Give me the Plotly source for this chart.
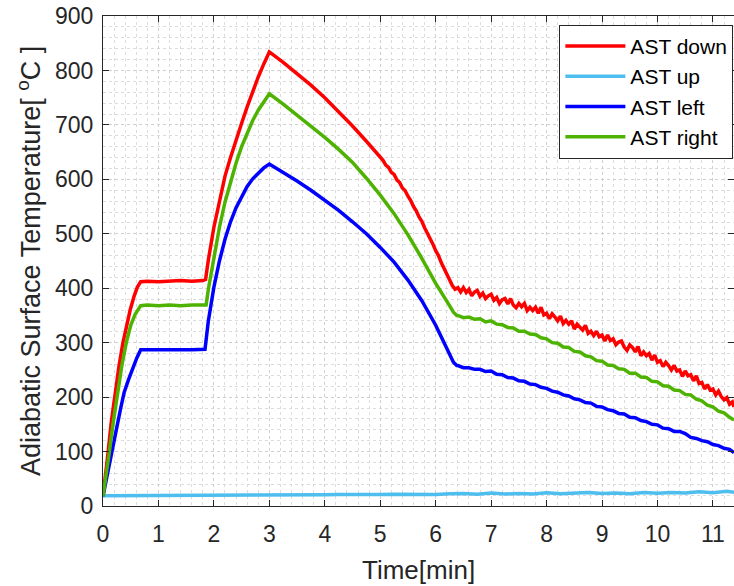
import plotly.graph_objects as go

# ---------------- data: adiabatic surface temperature (deg C) vs time (min) ----------------
# AST down
t_down = [0, 0.04, 0.08, 0.15, 0.22, 0.29, 0.36, 0.43, 0.49, 0.56, 0.62, 0.68,
          0.8, 1.0, 1.2, 1.4, 1.6, 1.8, 1.85,
          1.9, 2.0, 2.1, 2.2, 2.3, 2.4, 2.5, 2.6, 2.7, 2.8, 2.9, 3.0,
          3.25, 3.5, 3.75, 4.0, 4.25, 4.5, 4.75,
          5.0, 5.05, 5.1, 5.15, 5.2, 5.25, 5.3, 5.35, 5.4, 5.45, 5.5, 5.55, 5.6, 5.65,
          5.7, 5.75, 5.8, 5.85, 5.9, 5.95, 6.0, 6.05, 6.1, 6.15, 6.2, 6.25, 6.3, 6.35,
          6.4, 6.45, 6.5, 6.55, 6.6, 6.65, 6.7, 6.75, 6.8, 6.85, 6.9, 6.95,
          7.0, 7.05, 7.1, 7.15, 7.2, 7.25, 7.3, 7.35, 7.4, 7.45, 7.5, 7.55, 7.6, 7.65,
          7.7, 7.75, 7.8, 7.85, 7.9, 7.95, 8.0, 8.05, 8.1, 8.15, 8.2, 8.25, 8.3, 8.35,
          8.4, 8.45, 8.5, 8.55, 8.6, 8.65, 8.7, 8.75, 8.8, 8.85, 8.9, 8.95,
          9.0, 9.05, 9.1, 9.15, 9.2, 9.25, 9.3, 9.35, 9.4, 9.45, 9.5, 9.55, 9.6, 9.65,
          9.7, 9.75, 9.8, 9.85, 9.9, 9.95, 10.0, 10.05, 10.1, 10.15, 10.2, 10.25,
          10.3, 10.35, 10.4, 10.45, 10.5, 10.55, 10.6, 10.65, 10.7, 10.75, 10.8,
          10.85, 10.9, 10.95, 11.0, 11.05, 11.1, 11.15, 11.2, 11.25, 11.3, 11.35, 11.38]
ast_down = [18, 60, 88, 155, 208, 258, 300, 334, 360, 385, 402, 412,
            413, 412, 413, 414, 413, 414, 416,
            452, 512, 562, 606, 640, 673, 703, 733, 762, 788, 812, 834,
            815, 795, 773, 750, 725, 698, 670,
            640, 635, 626, 622, 613, 609, 599, 594, 584, 579, 569, 561, 550, 542,
            531, 523, 511, 502, 490, 481, 469, 460, 447, 437, 424, 415, 405, 398,
            401, 393, 401, 392, 398, 386, 393, 396, 385, 391, 381, 386,
            389, 378, 383, 372, 379, 381, 371, 381, 369, 364, 372, 366, 372, 359,
            365, 359, 365, 354, 365, 351, 354, 344, 353, 347, 340, 349, 335, 341,
            334, 340, 325, 334, 329, 323, 332, 317, 321, 313, 321, 311,
            314, 303, 314, 304, 307, 296, 301, 303, 292, 286, 296, 291, 283, 293,
            276, 283, 276, 280, 268, 277, 264, 267, 256, 264, 258, 250,
            258, 248, 250, 238, 248, 239, 241, 230, 239, 225, 227,
            215, 223, 213, 215, 204, 211, 201, 195, 199, 187, 191, 182]

# AST up
t_up = [0, 0.25, 0.5, 0.75, 1.0, 1.25, 1.5, 1.75, 2.0, 2.25, 2.5, 2.75, 3.0, 3.25,
        3.5, 3.75, 4.0, 4.25, 4.5, 4.75, 5.0, 5.25, 5.5, 5.75, 6.0, 6.25, 6.5,
        6.75, 7.0, 7.25, 7.5, 7.75, 8.0, 8.25, 8.5, 8.75, 9.0, 9.25, 9.5, 9.75,
        10.0, 10.25, 10.5, 10.75, 11.0, 11.25, 11.38]
ast_up = [19, 19, 19, 19, 19.5, 19.5, 19.5, 19.5, 20, 20, 20, 20, 20.5, 20.5,
          20, 20.5, 20.5, 21, 20.5, 21, 21, 21.5, 21, 21.5, 21, 22.5, 23,
          21.5, 24, 22, 23, 22, 24.5, 22.5, 23, 25, 23, 24, 22.5, 25,
          23.5, 25, 24, 26, 24.5, 27, 25]

# AST left
t_left = [0, 0.05, 0.1, 0.14, 0.2, 0.26, 0.32, 0.38, 0.46, 0.54, 0.61, 0.68,
          0.8, 1.0, 1.2, 1.4, 1.6, 1.84,
          1.9, 2.0, 2.1, 2.2, 2.3, 2.4, 2.5, 2.6, 2.7, 2.8, 2.9, 3.0,
          3.25, 3.5, 3.75, 4.0, 4.25, 4.5, 4.75, 5.0, 5.25, 5.5, 5.75, 6.0,
          6.25, 6.32, 6.38,
          6.4, 6.5, 6.6, 6.7, 6.8, 6.9, 7.0, 7.1, 7.2, 7.3, 7.4, 7.5, 7.6, 7.7,
          7.8, 7.9, 8.0, 8.1, 8.2, 8.3, 8.4, 8.5, 8.6, 8.7, 8.8, 8.9, 9.0, 9.1,
          9.2, 9.3, 9.4, 9.5, 9.6, 9.7, 9.8, 9.9, 10.0, 10.1, 10.2, 10.3, 10.4,
          10.5, 10.6, 10.7, 10.8, 10.9, 11.0, 11.1, 11.2, 11.3, 11.38]
ast_left = [18, 45, 68, 88, 120, 150, 180, 208, 232, 254, 272, 287,
            287, 286, 287, 286, 287, 288,
            340, 402, 450, 490, 522, 548, 569, 587, 601, 612, 621, 628,
            613, 597, 580, 562, 543, 522, 500, 475, 448, 415, 377, 332,
            280, 264, 258,
            258, 254, 254, 251, 251, 247, 248, 242, 241, 236, 235, 230, 229, 224,
            223, 218, 216, 211, 209, 204, 202, 197, 195, 190, 189, 183, 182, 177,
            175, 170, 169, 163, 162, 157, 155, 150, 149, 143, 142, 137, 137,
            133, 126, 124, 120, 118, 113, 111, 106, 104, 98]

# AST right
t_right = [0, 0.05, 0.1, 0.18, 0.26, 0.34, 0.42, 0.5, 0.58, 0.68,
           0.8, 1.0, 1.2, 1.4, 1.6, 1.86,
           1.9, 2.0, 2.1, 2.2, 2.3, 2.4, 2.5, 2.6, 2.7, 2.8, 2.9, 3.0,
           3.25, 3.5, 3.75, 4.0, 4.25, 4.5, 4.75, 5.0, 5.25, 5.5, 5.75, 6.0,
           6.25, 6.32, 6.38,
           6.4, 6.5, 6.6, 6.7, 6.8, 6.9, 7.0, 7.1, 7.2, 7.3, 7.4, 7.5, 7.6, 7.7,
           7.8, 7.9, 8.0, 8.1, 8.2, 8.3, 8.4, 8.5, 8.6, 8.7, 8.8, 8.9, 9.0, 9.1,
           9.2, 9.3, 9.4, 9.5, 9.6, 9.7, 9.8, 9.9, 10.0, 10.1, 10.2, 10.3, 10.4,
           10.5, 10.6, 10.7, 10.8, 10.9, 11.0, 11.1, 11.2, 11.3, 11.38]
ast_right = [18, 50, 88, 150, 210, 258, 300, 332, 352, 368,
             369, 368, 369, 368, 369, 369,
             398, 458, 512, 558, 597, 630, 660, 686, 708, 727, 743, 757,
             738, 718, 698, 677, 655, 631, 602, 571, 537, 498, 455, 409,
             368, 356, 350,
             350, 346, 347, 343, 344, 338, 340, 334, 333, 328, 327, 321, 321, 316,
             315, 309, 307, 300, 299, 292, 291, 284, 283, 276, 274, 267, 266, 259,
             258, 252, 251, 244, 244, 237, 236, 229, 228, 221, 220, 213, 212,
             205, 204, 196, 193, 185, 182, 174, 171, 163, 158]

series = [
    ("AST down", t_down, ast_down, "#FF0000"),
    ("AST up", t_up, ast_up, "#4DBEEE"),
    ("AST left", t_left, ast_left, "#0000FF"),
    ("AST right", t_right, ast_right, "#4DB300"),
]

x_ticks = list(range(0, 12))
y_ticks = list(range(0, 1000, 100))

FONT = "Liberation Sans, Arial, sans-serif"
INK = "#262626"

fig = go.Figure()
for name, t, v, color in series:
    fig.add_trace(go.Scatter(x=t, y=v, mode="lines", name=name,
                             line=dict(color=color, width=3.5)))

grid = dict(showgrid=True, gridcolor="#cfcfcf", gridwidth=1, griddash="dot")
fig.update_xaxes(
    range=[0, 11.38], tickvals=x_ticks, ticks="inside", ticklen=6, tickcolor=INK,
    showline=True, linecolor=INK, linewidth=1, mirror="ticks",
    tickfont=dict(family=FONT, size=23, color=INK), zeroline=False,
    ticklabelstandoff=7,
    minor=dict(dtick=0.2, showgrid=True, gridcolor="#dcdcdc", griddash="dot", ticks=""),
    **grid,
)
fig.update_yaxes(
    range=[0, 900], tickvals=y_ticks, ticks="inside", ticklen=6, tickcolor=INK,
    showline=True, linecolor=INK, linewidth=1, mirror="ticks",
    tickfont=dict(family=FONT, size=23, color=INK), zeroline=False,
    ticklabelstandoff=4,
    minor=dict(dtick=20, showgrid=True, gridcolor="#dcdcdc", griddash="dot", ticks=""),
    **grid,
)

fig.add_annotation(text="Time[min]", xref="paper", yref="paper", x=0.5, y=0,
                   yshift=-64, xanchor="center", yanchor="middle", showarrow=False,
                   font=dict(family=FONT, size=26, color=INK))
fig.add_annotation(text="Adiabatic Surface Temperature[ <sup>o</sup>C ]",
                   xref="paper", yref="paper", x=0, y=0.5, xshift=-74,
                   xanchor="center", yanchor="middle", textangle=-90, showarrow=False,
                   font=dict(family=FONT, size=27, color=INK))

fig.update_layout(
    width=734, height=586,
    margin=dict(l=103, r=0, t=16, b=80),
    paper_bgcolor="white", plot_bgcolor="white",
    showlegend=True,
    legend=dict(x=0.999, y=0.982, xanchor="right", yanchor="top",
                bgcolor="white", bordercolor=INK, borderwidth=1,
                font=dict(family=FONT, size=21, color="black"),
                itemwidth=60, tracegroupgap=0),
)

fig.write_html("out.html")
